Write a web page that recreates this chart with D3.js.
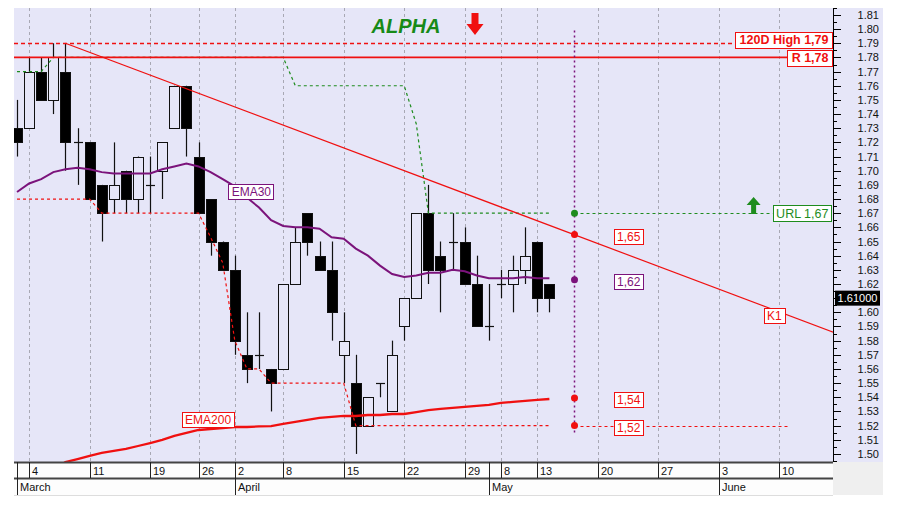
<!DOCTYPE html>
<html><head><meta charset="utf-8">
<script src="https://cdn.jsdelivr.net/npm/d3@7"></script>
<style>
body{margin:0;background:#fff;}
svg{display:block;font-family:"Liberation Sans",Arial,sans-serif;}
</style></head><body>
<svg id="c" width="907" height="516"></svg>
<script>
// ---------------- DATA ----------------
const days = [
"2024-03-01",
"2024-03-04","2024-03-05","2024-03-06","2024-03-07","2024-03-08",
"2024-03-11","2024-03-12","2024-03-13","2024-03-14","2024-03-15",
"2024-03-19","2024-03-20","2024-03-21","2024-03-22",
"2024-03-26","2024-03-27","2024-03-28",
"2024-04-02","2024-04-03","2024-04-04","2024-04-05",
"2024-04-08","2024-04-09","2024-04-10","2024-04-11","2024-04-12",
"2024-04-15","2024-04-16","2024-04-17","2024-04-18","2024-04-19",
"2024-04-22","2024-04-23","2024-04-24","2024-04-25","2024-04-26",
"2024-04-29","2024-04-30","2024-05-02",
"2024-05-08","2024-05-09","2024-05-10",
"2024-05-13","2024-05-14",
"2024-05-15","2024-05-16","2024-05-17",
"2024-05-20","2024-05-21","2024-05-22","2024-05-23","2024-05-24",
"2024-05-27","2024-05-28","2024-05-29","2024-05-30","2024-05-31",
"2024-06-03","2024-06-04","2024-06-05","2024-06-06","2024-06-07",
"2024-06-10","2024-06-11","2024-06-12","2024-06-13","2024-06-14"];

const open  = [1.73,1.73,1.77,1.75,1.77,1.72,1.72,1.69,1.68,1.70,1.68,1.69,1.70,1.73,1.76,1.71,1.68,1.65,1.63,1.57,1.57,1.56,1.56,1.62,1.67,1.64,1.63,1.57,1.55,1.52,1.55,1.53,1.59,1.61,1.67,1.64,1.65,1.65,1.62,1.59,1.62,1.62,1.63,1.65,1.62];
const high  = [1.75,1.78,1.78,1.79,1.79,1.73,1.72,1.69,1.72,1.70,1.71,1.71,1.72,1.76,1.76,1.72,1.68,1.65,1.64,1.60,1.60,1.56,1.62,1.66,1.67,1.65,1.65,1.60,1.57,1.54,1.55,1.58,1.61,1.67,1.69,1.65,1.67,1.66,1.64,1.62,1.63,1.64,1.66,1.65,1.62];
const low   = [1.71,1.73,1.75,1.74,1.70,1.69,1.68,1.65,1.67,1.67,1.67,1.67,1.68,1.73,1.71,1.67,1.64,1.63,1.57,1.55,1.56,1.53,1.56,1.62,1.64,1.63,1.58,1.55,1.50,1.52,1.54,1.53,1.58,1.61,1.62,1.60,1.63,1.62,1.59,1.58,1.61,1.60,1.62,1.60,1.60];
const close = [1.72,1.77,1.75,1.78,1.72,1.72,1.68,1.67,1.69,1.68,1.71,1.69,1.72,1.76,1.73,1.67,1.65,1.63,1.58,1.56,1.57,1.55,1.62,1.65,1.65,1.63,1.60,1.58,1.52,1.54,1.55,1.57,1.61,1.67,1.63,1.63,1.65,1.62,1.59,1.59,1.62,1.63,1.64,1.61,1.61];

const ema30 = [1.685,1.691,1.694,1.699,1.701,1.702,1.701,1.699,1.698,1.698,1.698,1.698,1.701,1.703,1.705,1.703,1.699,1.694,1.689,1.681,1.674,1.665,1.661,1.660,1.660,1.659,1.653,1.652,1.645,1.640,1.633,1.627,1.625,1.626,1.628,1.628,1.630,1.629,1.626,1.624,1.624,1.624,1.625,1.624,1.624];
const ema200 = [null,null,null,1.489,1.4942,1.4964,1.4986,1.5007,1.5021,1.5035,1.5056,1.5077,1.5099,1.5127,1.5148,1.5169,1.5176,1.5183,1.519,1.519,1.5194,1.5197,1.5212,1.5226,1.524,1.5254,1.5261,1.5268,1.5268,1.5275,1.5275,1.5282,1.5282,1.5296,1.531,1.5318,1.5325,1.5332,1.5339,1.5346,1.536,1.5367,1.5374,1.5381,1.5388];
const supportTrail = [1.68,1.68,1.68,1.68,1.68,1.68,1.68,1.67,1.67,1.67,1.67,1.67,1.67,1.67,1.67,1.67,1.653,1.635,1.58,1.56,1.56,1.55,1.55,1.55,1.55,1.55,1.55,1.55,1.52,1.52,1.52,1.52,1.52,1.52,1.52,1.52,1.52,1.52,1.52,1.52,1.52,1.52,1.52,1.52,1.52];
const stopTrail = [1.77,1.77,1.77,1.78,1.78,1.78,1.78,1.78,1.78,1.78,1.78,1.78,1.78,1.78,1.78,1.78,1.78,1.78,1.78,1.78,1.78,1.78,1.78,1.76,1.76,1.76,1.76,1.76,1.76,1.76,1.76,1.76,1.76,1.733,1.67,1.67,1.67,1.67,1.67,1.67,1.67,1.67,1.67,1.67,1.67];

const levelNames  = ["120D High 1,79", "R 1,78"];
const levelValues = [1.79, 1.78];
const trendIdx = [4, 32];
const trendVal = [1.79, 1.70];
const trendName = "K1";
const urlName = "URL 1,67";
const urlValue = 1.67;
const projIdx = 46;
const projValues = [1.67, 1.655, 1.623, 1.5395, 1.52];
const projLabels = [null, "1,65", "1,62", "1,54", "1,52"];
const lastPrice = 1.61;
const title = "ALPHA";
const yTickMin = 1.50, yTickMax = 1.81;

// ---------------- LAYOUT ----------------
const svg = d3.select("#c");
const L = 14, R = 833, T = 8, B = 462;
const BG = "#e6e6f8";
const RED = "#f01010", PURPLE = "#7b137b", GREEN = "#1e8c1e";

const x = d3.scaleLinear().domain([-0.25, 67.44]).range([L, R]);
const y = d3.scaleLinear().domain([1.4943, 1.8149]).range([B, T]);
const ys = v => Math.round(y(v)) + 0.5;
const parse = d3.timeParse("%Y-%m-%d");
const dts = days.map(parse);

svg.append("rect").attr("x",0).attr("y",0).attr("width",907).attr("height",516).attr("fill","#fff");
svg.append("rect").attr("x",L).attr("y",T).attr("width",883-L).attr("height",B-T).attr("fill",BG);
svg.append("defs").append("clipPath").attr("id","pc").append("rect")
  .attr("x",L).attr("y",T).attr("width",R-L).attr("height",B-T);

// ticks from dates
const weekTicks = [], monthTicks = [];
dts.forEach((d,i)=>{
  if (i===0 || d.getMonth()!==dts[i-1].getMonth()) monthTicks.push(i);
  if (i>0 && +d3.timeMonday.floor(d)!==+d3.timeMonday.floor(dts[i-1])) weekTicks.push(i);
});

const plot = svg.append("g").attr("clip-path","url(#pc)");
// grid
plot.selectAll(".grid").data(weekTicks).join("line")
  .attr("x1",i=>Math.round(x(i))+0.5).attr("x2",i=>Math.round(x(i))+0.5)
  .attr("y1",T).attr("y2",B).attr("stroke","#a8a8b4").attr("stroke-dasharray","3,3");

// candles
const cd = open.map((o,i)=>({i,o,h:high[i],l:low[i],c:close[i]}));
const cg = plot.append("g");
const bw = 10;
cd.forEach(d=>{
  const cx = Math.round(x(d.i))+0.5;
  cg.append("line").attr("x1",cx).attr("x2",cx).attr("y1",y(d.h)).attr("y2",y(d.l))
    .attr("stroke","#111").attr("stroke-width",1.2);
  if (Math.abs(d.o-d.c)<1e-9){
    cg.append("line").attr("x1",cx-4.5).attr("x2",cx+4.5).attr("y1",ys(d.o)).attr("y2",ys(d.o))
      .attr("stroke","#111").attr("stroke-width",1.2);
  } else {
    const top = ys(Math.max(d.o,d.c)), bot = ys(Math.min(d.o,d.c));
    cg.append("rect").attr("x",cx-bw/2).attr("y",top).attr("width",bw).attr("height",bot-top)
      .attr("fill", d.c<d.o ? "#000" : BG).attr("stroke","#111").attr("stroke-width",1);
  }
});

const lineGen = d3.line().defined(v=>v!=null).x((v,i)=>x(i)).y(v=>y(v));
// green stop trail
plot.append("path").attr("d",lineGen(stopTrail)).attr("fill","none")
  .attr("stroke",GREEN).attr("stroke-width",1.2).attr("stroke-dasharray","3,3");
// horizontal levels (over the green trail)
plot.append("line").attr("x1",L).attr("x2",R).attr("y1",ys(levelValues[0])).attr("y2",ys(levelValues[0]))
  .attr("stroke",RED).attr("stroke-width",1.3).attr("stroke-dasharray","4,3");
plot.append("line").attr("x1",L).attr("x2",R).attr("y1",y(levelValues[1])).attr("y2",y(levelValues[1]))
  .attr("stroke",RED).attr("stroke-width",1.8);
// red support trail
plot.append("path").attr("d",lineGen(supportTrail)).attr("fill","none")
  .attr("stroke",RED).attr("stroke-width",1.2).attr("stroke-dasharray","3,3");
// trendline K1
const slope = (trendVal[1]-trendVal[0])/(trendIdx[1]-trendIdx[0]);
const tv = i => trendVal[0] + slope*(i-trendIdx[0]);
plot.append("line").attr("x1",x(trendIdx[0])).attr("y1",y(trendVal[0]))
  .attr("x2",x(67.5)).attr("y2",y(tv(67.5))).attr("stroke",RED).attr("stroke-width",1.2);
// EMA200
plot.append("path").attr("d",lineGen(ema200)).attr("fill","none").attr("stroke",RED).attr("stroke-width",2.3);
// EMA30
plot.append("path").attr("d",lineGen(ema30)).attr("fill","none").attr("stroke",PURPLE).attr("stroke-width",2);

// projection vertical
const px = Math.round(x(projIdx))+0.5;
const urlX = x(62.45);
plot.append("line").attr("x1",px).attr("x2",px).attr("y1",y(1.799)).attr("y2",y(1.514))
  .attr("stroke",PURPLE).attr("stroke-width",1.5).attr("stroke-dasharray","2,3");
plot.append("line").attr("x1",px).attr("x2",urlX).attr("y1",ys(urlValue)).attr("y2",ys(urlValue))
  .attr("stroke",GREEN).attr("stroke-width",1.2).attr("stroke-dasharray","3,3");
plot.append("line").attr("x1",px).attr("x2",x(63.9)).attr("y1",ys(projValues[4])).attr("y2",ys(projValues[4]))
  .attr("stroke",RED).attr("stroke-width",1.2).attr("stroke-dasharray","3,3");
const dotColors = [GREEN, RED, PURPLE, RED, RED];
projValues.forEach((v,k)=>{
  plot.append("circle").attr("cx",px).attr("cy",y(v)).attr("r",3.5).attr("fill",dotColors[k]);
});

// label helper
function tag(txt, xx, yc, color, anchor, fs, weight, pad){
  pad = pad || 3;
  const g = svg.append("g");
  const t = g.append("text").text(txt).attr("font-size",fs).attr("fill",color).attr("font-weight",weight||"normal");
  const w = t.node().getComputedTextLength();
  const bwid = w+2*pad, bh = fs+3;
  const left = anchor==="end" ? xx-bwid : anchor==="middle" ? xx-bwid/2 : xx;
  g.insert("rect","text").attr("x",Math.round(left)+0.5).attr("y",Math.round(yc-bh/2)+0.5)
    .attr("width",Math.round(bwid)).attr("height",Math.round(bh)).attr("fill","#fff").attr("stroke",color);
  t.attr("x",left+pad+0.5).attr("y",yc+fs*0.36);
  return g;
}
tag(levelNames[0], R-1, y(levelValues[0])-4, RED, "end", 12.5, "bold", 4);
tag(levelNames[1], R-1, y(levelValues[1]), RED, "end", 12.5, "bold", 4);
tag(urlName, urlX, y(urlValue), GREEN, "start", 12.5);
tag(trendName, x(62.56), y(tv(62.56))+6, RED, "middle", 12);
tag("EMA30", x(17.45), y(ema30[18])+5, PURPLE, "start", 12);
tag("EMA200", x(13.6), y(ema200[14])-13, RED, "start", 12);
const projColors = [GREEN, RED, PURPLE, RED, RED];
projLabels.forEach((lb,k)=>{
  if (!lb) return;
  tag(lb, x(projIdx)+40, y(projValues[k])+2, projColors[k], "start", 12);
});

// up arrow (green) near URL
const ua = urlX-19;
svg.append("path").attr("d",`M${ua},197 L${ua+7},205 L${ua+2.5},205 L${ua+2.5},214 L${ua-2.5},214 L${ua-2.5},205 L${ua-7},205 Z`).attr("fill",GREEN);

// title & down arrow
svg.append("text").text(title).attr("x",406).attr("y",33).attr("text-anchor","middle")
  .attr("font-size",20).attr("font-weight","bold").attr("font-style","italic").attr("fill","#178a17");
const da = 475;
svg.append("path").attr("d",`M${da-3.5},13 L${da+3.5},13 L${da+3.5},24 L${da+8.5},24 L${da},35 L${da-8.5},24 L${da-3.5},24 Z`).attr("fill",RED);

// right axis
svg.append("line").attr("x1",R+0.5).attr("x2",R+0.5).attr("y1",T).attr("y2",B).attr("stroke","#000");
const minor = d3.range(Math.round(1.495/0.005), Math.round(1.815/0.005)+1).map(k=>k*0.005);
svg.selectAll(".mt").data(minor).join("line")
  .attr("x1",R).attr("x2",v=>Math.abs(v*100-Math.round(v*100))<1e-6 ? R+8 : R+4)
  .attr("y1",v=>ys(v)).attr("y2",v=>ys(v)).attr("stroke","#000");
const yt = d3.range(Math.round(yTickMin*100), Math.round(yTickMax*100)+1).map(k=>k/100);
svg.selectAll(".yl").data(yt).join("text").attr("x",879).attr("y",v=>y(v)+4).attr("text-anchor","end")
  .attr("font-size",11).attr("fill","#111").text(v=>v.toFixed(2));
// last price
svg.append("rect").attr("x",835).attr("y",y(lastPrice)-7.5).attr("width",45).attr("height",15).attr("fill","#000");
svg.append("text").attr("x",857.5).attr("y",y(lastPrice)+4).attr("text-anchor","middle").attr("font-size",11)
  .attr("fill","#fff").text(lastPrice.toFixed(5));

// bottom axis
svg.append("rect").attr("x",L).attr("y",B).attr("width",R-L).attr("height",33).attr("fill","#fdfdfd");
svg.append("rect").attr("x",R).attr("y",B).attr("width",883-R).attr("height",33).attr("fill","#efefef");
svg.append("line").attr("x1",L).attr("x2",R).attr("y1",B+0.5).attr("y2",B+0.5).attr("stroke","#444").attr("stroke-width",2);
svg.append("line").attr("x1",L).attr("x2",R).attr("y1",478.5).attr("y2",478.5).attr("stroke","#444").attr("stroke-width",2);
svg.append("line").attr("x1",L).attr("x2",R).attr("y1",495.5).attr("y2",495.5).attr("stroke","#ddd");
svg.selectAll(".wt").data(weekTicks).join("line")
  .attr("x1",i=>Math.round(x(i))+0.5).attr("x2",i=>Math.round(x(i))+0.5).attr("y1",B).attr("y2",478).attr("stroke","#222");
svg.selectAll(".wl").data(weekTicks).join("text").attr("x",i=>Math.round(x(i))+3).attr("y",475)
  .attr("font-size",11).attr("fill","#111").text(i=>dts[i].getDate());
svg.selectAll(".mtk").data(monthTicks).join("line")
  .attr("x1",i=>Math.round(x(i))+0.5).attr("x2",i=>Math.round(x(i))+0.5).attr("y1",B).attr("y2",495).attr("stroke","#222");
const mfmt = d3.timeFormat("%B");
svg.selectAll(".ml").data(monthTicks).join("text").attr("x",i=>Math.round(x(i))+3).attr("y",491)
  .attr("font-size",11).attr("fill","#111").text(i=>mfmt(dts[i]));
</script>
</body></html>
